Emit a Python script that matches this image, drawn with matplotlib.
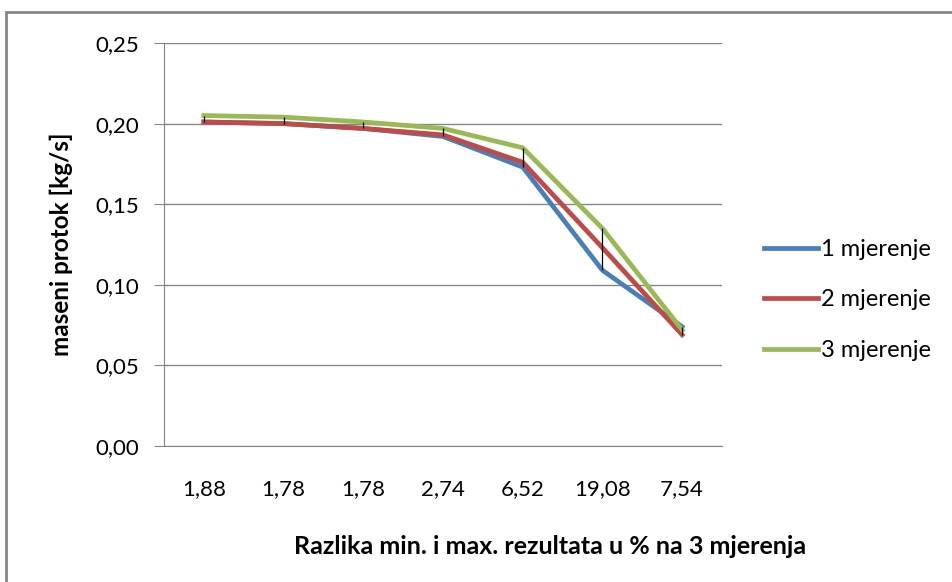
import matplotlib
matplotlib.use("Agg")
import matplotlib.pyplot as plt
from matplotlib.patches import Rectangle

# podaci ocitani sa grafa
kategorije = ["1,88", "1,78", "1,78", "2,74", "6,52", "19,08", "7,54"]
mjerenje_1 = [0.201, 0.200, 0.197, 0.192, 0.173, 0.109, 0.074]
mjerenje_2 = [0.201, 0.200, 0.197, 0.193, 0.176, 0.123, 0.069]
mjerenje_3 = [0.205, 0.204, 0.201, 0.197, 0.185, 0.135, 0.072]
y_ticks = [0.00, 0.05, 0.10, 0.15, 0.20, 0.25]

plt.rcParams['font.family'] = ['Lato', 'DejaVu Sans']

fig = plt.figure(figsize=(9.53, 5.82), dpi=100)
ax = fig.add_axes([164 / 953, 1 - 446 / 582, (722 - 164) / 953, (446 - 43) / 582])

x = list(range(len(kategorije)))
ax.plot(x, mjerenje_1, color='#4A7EBB', lw=3.4, label='1 mjerenje', zorder=3, solid_joinstyle='round')
ax.plot(x, mjerenje_2, color='#BE4B48', lw=3.4, label='2 mjerenje', zorder=4, solid_joinstyle='round')
ax.plot(x, mjerenje_3, color='#98B954', lw=3.4, label='3 mjerenje', zorder=5, solid_joinstyle='round')

# high-low linije
lo = [min(a, b, c) for a, b, c in zip(mjerenje_1, mjerenje_2, mjerenje_3)]
hi = [max(a, b, c) for a, b, c in zip(mjerenje_1, mjerenje_2, mjerenje_3)]
ax.vlines(x, lo, hi, color='black', lw=0.9, zorder=6)

ax.set_xlim(-0.5, len(kategorije) - 0.5)
ax.set_ylim(0, 0.25)
ax.set_yticks(y_ticks)
ax.set_yticklabels([f"{v:.2f}".replace('.', ',') for v in y_ticks])
ax.set_xticks(x)
ax.set_xticklabels(kategorije)
ax.grid(axis='y', color='#868686', lw=1)
ax.set_axisbelow(True)

for s in ['top', 'right']:
    ax.spines[s].set_visible(False)
ax.spines['left'].set_color('#868686')
ax.spines['bottom'].set_color('#868686')
ax.tick_params(axis='y', length=7, color='#868686', labelsize=16, pad=11)
ax.tick_params(axis='x', length=0, labelsize=16, pad=24)

ax.set_ylabel('maseni protok [kg/s]', fontsize=17.5, fontweight='bold', labelpad=16)
fig.text(550 / 953, 1 - 546 / 582, 'Razlika min. i max. rezultata u % na 3 mjerenja',
         ha='center', va='center', fontsize=18, fontweight='bold')

ax.legend(loc='center left', bbox_to_anchor=(747 / 953, 1 - 300 / 582),
          bbox_transform=fig.transFigure, frameon=False, fontsize=17,
          labelspacing=1.25, handlelength=2.3, handletextpad=0.15,
          borderpad=0.2)

fig.patches.append(Rectangle((6 / 953, -0.1), 1.2, 1.1 - 12 / 582,
                             transform=fig.transFigure, fill=False,
                             edgecolor='#868686', lw=2))

fig.savefig('out.png', dpi=100)
